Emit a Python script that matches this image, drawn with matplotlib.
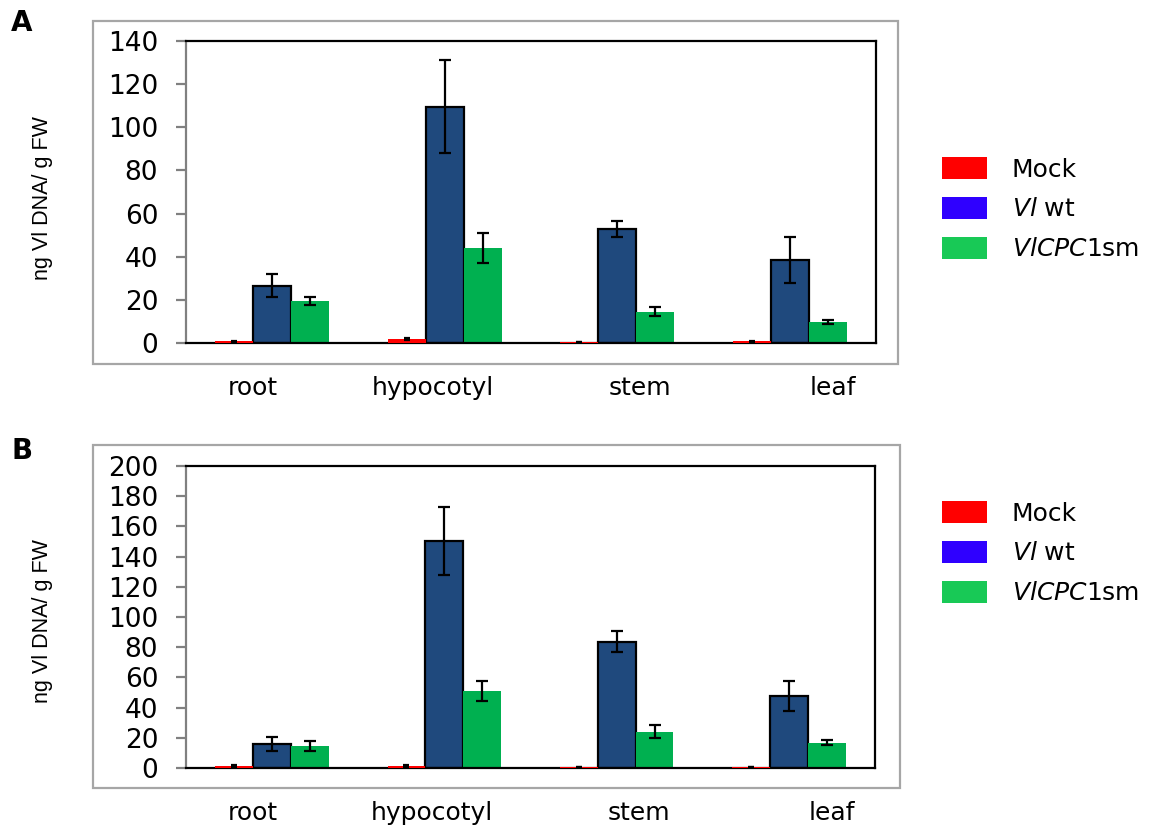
import matplotlib.pyplot as plt
from matplotlib.patches import Patch, Rectangle
import numpy as np

plt.rcParams['font.family'] = ['DejaVu Sans']
plt.rcParams['mathtext.fontset'] = 'dejavusans'

# data
tissues = ['root', 'hypocotyl', 'stem', 'leaf']
series = ['Mock', r'$\mathit{Vl}$ wt', r'$\mathit{VlCPC1}$sm']

a_mock = [0.8, 1.8, 0.5, 0.8]
a_mock_err = [0.3, 0.6, 0.1, 0.2]
a_wt = [26.5, 109.6, 52.9, 38.5]
a_wt_err = [5.3, 21.6, 3.8, 10.6]
a_sm = [19.5, 43.9, 14.6, 9.7]
a_sm_err = [1.8, 7.0, 2.1, 1.0]

b_mock = [1.3, 1.3, 0.6, 0.6]
b_mock_err = [0.4, 0.5, 0.1, 0.1]
b_wt = [15.9, 150.3, 83.7, 47.9]
b_wt_err = [4.8, 22.7, 6.9, 10.0]
b_sm = [14.6, 51.0, 24.0, 16.8]
b_sm_err = [3.3, 6.8, 4.4, 1.6]

bar_colors = ['#FF0000', '#1F497D', '#00B050']
legend_colors = ['#FF0000', '#2F00FF', '#18C956']
label_pos = [0.89, 1.93, 3.13, 4.25]

W, H = 1165, 825
fig = plt.figure(figsize=(W / 100, H / 100), dpi=100)


def px(x0, y0, x1, y1):
    # pixel box -> figure fraction rect
    return [x0 / W, 1 - y1 / H, (x1 - x0) / W, (y1 - y0) / H]


def panel(rect, frame, mock, mock_err, wt, wt_err, sm, sm_err, ymax, letter, letter_y, ylab_y, leg_y):
    fig.patches.append(Rectangle((frame[0] / W, 1 - frame[3] / H),
                                 (frame[2] - frame[0]) / W, (frame[3] - frame[1]) / H,
                                 transform=fig.transFigure, fill=False,
                                 edgecolor='#A6A6A6', linewidth=1.6))
    ax = fig.add_axes(rect)
    x = np.arange(1, len(tissues) + 1)
    w = 0.22
    ebk = dict(ecolor='black', elinewidth=1.6, capthick=1.6)
    ax.bar(x - w, mock, w, color=bar_colors[0], edgecolor='none', zorder=3)
    ax.errorbar(x - w, mock, yerr=mock_err, fmt='none', capsize=2.5, zorder=4, **ebk)
    ax.bar(x, wt, w, color=bar_colors[1], edgecolor='black', linewidth=1.6, zorder=2)
    ax.errorbar(x, wt, yerr=wt_err, fmt='none', capsize=4.5, zorder=4, **ebk)
    ax.bar(x + w, sm, w, color=bar_colors[2], edgecolor='none', zorder=2)
    ax.errorbar(x + w, sm, yerr=sm_err, fmt='none', capsize=4.5, zorder=4, **ebk)

    ax.set_xlim(0.5, 4.5)
    ax.set_ylim(0, ymax)
    ax.set_yticks(np.arange(0, ymax + 1, 20))
    ax.set_xticks(label_pos)
    ax.set_xticklabels(tissues, fontsize=18)
    ax.tick_params(axis='x', length=0, pad=24)
    ax.tick_params(axis='y', direction='out', length=7, width=1.6, color='#808080',
                   labelsize=19, pad=13)
    for s in ['top', 'right', 'bottom']:
        ax.spines[s].set_color('black')
        ax.spines[s].set_linewidth(1.6)
    ax.spines['left'].set_color('#808080')
    ax.spines['left'].set_linewidth(1.6)

    fig.text(43 / W, 1 - ylab_y / H, 'ng Vl DNA/ g FW', rotation=90, ha='center', va='center',
             fontsize=15.5, family=['Liberation Sans'])
    fig.text(11 / W, 1 - letter_y / H, letter, fontsize=20, fontweight='bold', ha='left', va='top')

    handles = [Patch(facecolor=c, edgecolor='none') for c in legend_colors]
    fig.legend(handles, series, loc='upper left', bbox_to_anchor=(942 / W, 1 - leg_y / H),
               frameon=False, fontsize=18, handlelength=1.8, handleheight=1.0,
               handletextpad=1.0, labelspacing=0.6, borderpad=0, borderaxespad=0)
    return ax


panel(px(186, 41, 876, 343), (93, 21, 898, 364), a_mock, a_mock_err, a_wt, a_wt_err,
      a_sm, a_sm_err, 140, 'A', 9, 198, 157)
panel(px(186, 466, 875, 768), (93, 445, 900, 788), b_mock, b_mock_err, b_wt, b_wt_err,
      b_sm, b_sm_err, 200, 'B', 437, 621, 501)

fig.savefig('out.png', dpi=100)
